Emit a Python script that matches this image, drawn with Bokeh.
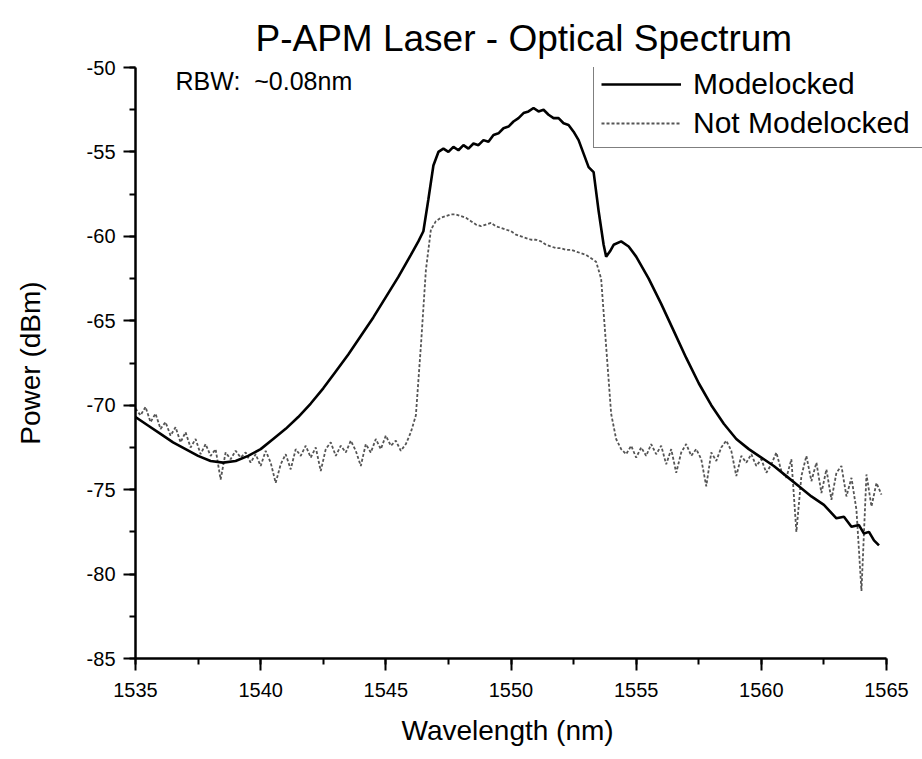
import numpy as np
from bokeh.plotting import figure
from bokeh.models import (Range1d, SingleIntervalTicker, Label, Legend, LegendItem,
                          CustomJSTickFormatter, Title)
from bokeh.embed import file_html
from bokeh.resources import INLINE

# ---------------- data ----------------
title_text = "P-APM Laser - Optical Spectrum"
x_label = "Wavelength (nm)"
y_label = "Power (dBm)"
rbw_text = "RBW:\u00a0 ~0.08nm"
series_names = ["Modelocked", "Not Modelocked"]

ml_x = [1535.0, 1535.5, 1536.0, 1536.5, 1537.0, 1537.5, 1538.0, 1538.5, 1539.0, 1539.5,
        1540.0, 1540.5, 1541.0, 1541.5, 1542.0, 1542.5, 1543.0, 1543.5, 1544.0, 1544.5,
        1545.0, 1545.5, 1546.0, 1546.3, 1546.5, 1546.7, 1546.9, 1547.1, 1547.3, 1547.5,
        1547.7, 1547.9, 1548.1, 1548.3, 1548.5, 1548.7, 1548.9, 1549.1, 1549.3, 1549.5,
        1549.7, 1549.9, 1550.1, 1550.3, 1550.5, 1550.7, 1550.9, 1551.1, 1551.3, 1551.5,
        1551.7, 1551.9, 1552.1, 1552.3, 1552.5, 1552.7, 1552.9, 1553.1, 1553.3, 1553.5,
        1553.7, 1553.8, 1553.95, 1554.1, 1554.4, 1554.7, 1555.0, 1555.5, 1556.0, 1556.5,
        1557.0, 1557.5, 1558.0, 1558.5, 1559.0, 1559.5, 1560.0, 1560.5, 1561.0, 1561.5,
        1562.0, 1562.5, 1563.0, 1563.3, 1563.6, 1563.9, 1564.1, 1564.3, 1564.5, 1564.7]
ml_y = [-70.7, -71.2, -71.7, -72.2, -72.6, -73.0, -73.3, -73.4, -73.3, -73.0,
        -72.6, -72.0, -71.4, -70.7, -69.9, -69.0, -68.0, -67.0, -65.9, -64.8,
        -63.6, -62.4, -61.1, -60.3, -59.7, -57.8, -55.8, -55.0, -54.8, -55.0,
        -54.7, -54.9, -54.6, -54.8, -54.5, -54.6, -54.3, -54.4, -54.0, -53.9,
        -53.6, -53.5, -53.2, -53.0, -52.7, -52.6, -52.4, -52.6, -52.5, -52.8,
        -53.0, -53.0, -53.3, -53.4, -53.8, -54.3, -55.1, -55.9, -56.2, -58.5,
        -60.5, -61.2, -60.9, -60.5, -60.3, -60.6, -61.2, -62.5, -64.0, -65.6,
        -67.2, -68.7, -70.0, -71.1, -72.0, -72.6, -73.1, -73.6, -74.2, -74.8,
        -75.4, -75.9, -76.7, -76.6, -77.2, -77.1, -77.6, -77.5, -78.0, -78.3]

nml_y = [-70.2, -70.6, -70.1, -71.0, -70.5, -71.4, -71.0, -71.8, -71.3, -72.2,
         -71.6, -72.5, -72.0, -72.9, -72.3, -73.0, -72.6, -74.4, -72.8, -73.2,
         -72.7, -73.1, -72.8, -73.4, -72.9, -73.6, -72.7, -73.4, -74.6, -73.5,
         -72.9, -73.8, -72.6, -73.0, -72.4, -73.1, -72.5, -73.9, -72.6, -72.2,
         -73.0, -72.4, -72.8, -72.1, -72.7, -73.6, -72.3, -72.8, -72.0, -72.6,
         -71.8, -72.4, -72.1, -72.7, -72.3, -71.6, -70.6, -66.5, -62.0, -59.6,
         -59.1, -58.9, -58.8, -58.7, -58.7, -58.8, -58.9, -59.1, -59.3, -59.4,
         -59.3, -59.2, -59.4, -59.5, -59.6, -59.7, -59.9, -60.0, -60.1, -60.2,
         -60.2, -60.3, -60.5, -60.6, -60.7, -60.7, -60.8, -60.8, -60.9, -61.0,
         -61.1, -61.3, -61.5, -62.5, -66.5, -70.5, -72.0, -72.6, -72.9, -72.4,
         -73.1, -72.5, -73.0, -72.3, -72.9, -72.4, -73.5, -72.6, -74.0, -72.8,
         -72.3, -73.0, -72.6, -73.2, -74.8, -72.8, -73.3, -72.5, -72.1, -72.7,
         -74.2, -73.0, -73.4, -72.9, -73.6, -73.2, -74.0, -73.5, -72.8, -73.9,
         -74.3, -73.2, -77.5, -74.2, -73.0, -74.5, -73.4, -75.2, -73.8, -75.6,
         -74.0, -73.6, -75.4, -74.3, -76.2, -81.0, -74.1, -76.0, -74.6, -75.3]
nml_x = list(np.round(1535.0 + 0.2 * np.arange(len(nml_y)), 1))

x_start, x_end = 1535, 1565
y_start, y_end = -85, -50
FONT = "Liberation Sans"

# frame spans to the right edge so the legend box can run off the picture as in the reference;
# the axis itself is bounded to 1535..1565
px_per_nm = (886 - 135) / (x_end - x_start)
x_view_end = x_start + (922 - 135) / px_per_nm

p = figure(width=922, height=759, output_backend="svg", toolbar_location=None,
           x_range=Range1d(x_start, x_view_end), y_range=Range1d(y_start, y_end),
           min_border_left=135, min_border_right=0, min_border_top=67, min_border_bottom=101)

p.title.text = title_text
p.title.align = "left"
p.title.offset = 120
p.title.standoff = 18
p.title.text_font = FONT
p.title.text_font_size = "37px"
p.title.text_font_style = "normal"
p.title.text_color = "black"

p.xgrid.visible = False
p.ygrid.visible = False
p.outline_line_color = None
p.background_fill_color = "white"

p.xaxis.ticker = SingleIntervalTicker(interval=5, num_minor_ticks=2)
p.yaxis.ticker = SingleIntervalTicker(interval=5, num_minor_ticks=2)
p.xaxis.bounds = (x_start, x_end)
for ax in (p.xaxis[0], p.yaxis[0]):
    ax.formatter = CustomJSTickFormatter(code="return tick.toFixed(0);")
    ax.axis_line_width = 2.5
    ax.axis_line_color = "black"
    ax.major_tick_line_width = 2
    ax.minor_tick_line_width = 2
    ax.major_tick_line_color = "black"
    ax.minor_tick_line_color = "black"
    ax.major_tick_out = 12
    ax.major_tick_in = 0
    ax.minor_tick_out = 6
    ax.minor_tick_in = 0
    ax.major_label_text_font = FONT
    ax.major_label_text_font_size = "20px"
    ax.major_label_text_color = "black"
    ax.axis_label_text_font = FONT
    ax.axis_label_text_font_size = "28px"
    ax.axis_label_text_font_style = "normal"
    ax.axis_label_text_color = "black"

p.yaxis.axis_label = y_label
p.xaxis.major_label_standoff = 12
p.yaxis.major_label_standoff = 8
p.yaxis.axis_label_standoff = 38

# x-axis title as a "below" title, shifted so it is centred under the bounded axis
x_title = Title(text=x_label, align="left", offset=266, standoff=26,
                text_font=FONT, text_font_size="28px", text_font_style="normal",
                text_color="black")
p.add_layout(x_title, "below")

r2 = p.line(nml_x, nml_y, line_color="#555555", line_width=1.8, line_dash="3 2")
r1 = p.line(ml_x, ml_y, line_color="black", line_width=2.6)

p.add_layout(Label(x=1536.6, y=-50.8, text=rbw_text, text_font=FONT, text_font_size="25px",
                   text_baseline="middle", text_color="black"))

legend = Legend(items=[LegendItem(label=series_names[0], renderers=[r1]),
                       LegendItem(label=series_names[1], renderers=[r2])],
                location=(458, 510))
legend.border_line_color = "black"
legend.border_line_width = 1.5
legend.background_fill_color = "white"
legend.background_fill_alpha = 1.0
legend.label_text_font = FONT
legend.label_text_font_size = "30px"
legend.label_text_color = "black"
legend.glyph_width = 80
legend.glyph_height = 30
legend.label_height = 30
legend.label_width = 260
legend.spacing = 5
legend.padding = 7
legend.margin = 0
legend.label_standoff = 12
p.add_layout(legend)

open("out.html", "w").write(file_html(p, INLINE))
